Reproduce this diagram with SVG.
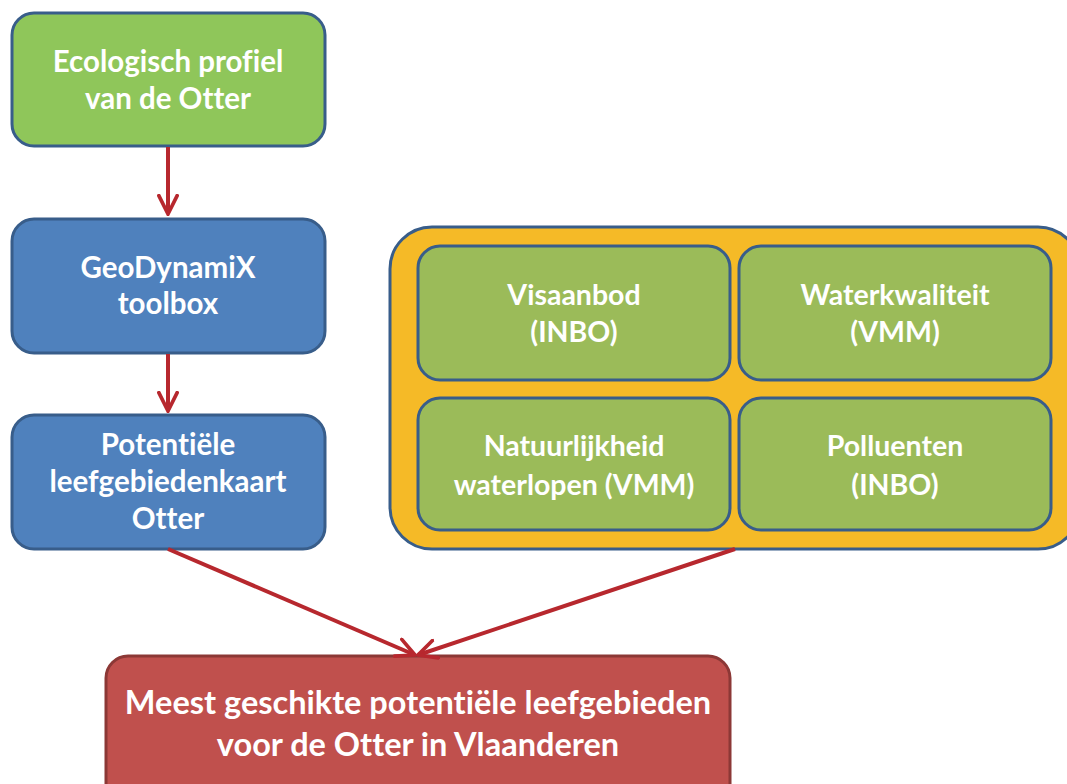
<svg xmlns="http://www.w3.org/2000/svg" width="1067" height="784" viewBox="0 0 1067 784">
<defs>
<style>
.t{font-family:Lato,"Open Sans","Liberation Sans",sans-serif;font-weight:bold;fill:#fff;text-anchor:middle;font-variant-ligatures:none;font-feature-settings:"liga" 0,"clig" 0}
.s{font-size:29.5px}
.m{font-size:28.5px}
.l{font-size:32.5px}
.blue{fill:#4F81BD;stroke:#385D8A;stroke-width:3}
.grn{fill:#9BBB59;stroke:#385D8A;stroke-width:3}
.conn{stroke:#B7282E;stroke-width:4;fill:none}
</style>
<marker id="ah" viewBox="0 0 12 12" refX="11" refY="6" markerWidth="5.5" markerHeight="5.5" orient="auto" markerUnits="strokeWidth">
<path d="M1,1 L11,6 L1,11" fill="none" stroke="#B7282E" stroke-width="2" stroke-linecap="round"/>
</marker>
</defs>
<rect width="1067" height="784" fill="#fff"/>
<g id="n1"><rect x="12" y="13" width="313" height="133" rx="22" fill="#8FC65A" stroke="#385D8A" stroke-width="3"/>
<text class="t s" x="168" y="72">Ecologisch profiel</text><text class="t s" x="168" y="109">van de Otter</text></g>
<g id="n2"><rect class="blue" x="12" y="219" width="313" height="134" rx="22"/>
<text class="t s" x="168" y="278">GeoDynamiX</text><text class="t s" x="168" y="314">toolbox</text></g>
<g id="n3"><rect class="blue" x="12" y="415" width="313" height="134" rx="22"/>
<text class="t s" x="168" y="455">Potentiële</text><text class="t s" x="168" y="492">leefgebiedenkaart</text><text class="t s" x="168" y="529">Otter</text></g>
<g id="group"><rect x="390" y="227" width="690" height="322" rx="42" fill="#F5BA27" stroke="#385D8A" stroke-width="3"/></g>
<g id="n4"><rect class="grn" x="418" y="246" width="312" height="134" rx="22"/>
<text class="t m" x="574" y="305">Visaanbod</text><text class="t m" x="574" y="342">(INBO)</text></g>
<g id="n5"><rect class="grn" x="739" y="246" width="312" height="134" rx="22"/>
<text class="t m" x="895" y="305">Waterkwaliteit</text><text class="t m" x="895" y="342">(VMM)</text></g>
<g id="n6"><rect class="grn" x="418" y="398" width="312" height="132" rx="22"/>
<text class="t m" x="574" y="456">Natuurlijkheid</text><text class="t m" x="574" y="495">waterlopen (VMM)</text></g>
<g id="n7"><rect class="grn" x="739" y="398" width="312" height="132" rx="22"/>
<text class="t m" x="895" y="456">Polluenten</text><text class="t m" x="895" y="495">(INBO)</text></g>
<g id="n8"><rect x="106" y="656" width="624" height="150" rx="22" fill="#C0504D" stroke="#8C3836" stroke-width="3"/>
<text class="t l" x="418" y="714">Meest geschikte potentiële leefgebieden</text><text class="t l" x="418" y="756">voor de Otter in Vlaanderen</text></g>
<g id="connectors">
<line class="conn" x1="168" y1="147" x2="168" y2="214" marker-end="url(#ah)"/>
<line class="conn" x1="168" y1="354" x2="168" y2="411" marker-end="url(#ah)"/>
<line class="conn" x1="168" y1="549" x2="415" y2="655" marker-end="url(#ah)"/>
<line class="conn" x1="735" y1="549" x2="418" y2="655" marker-end="url(#ah)"/>
</g>
</svg>
